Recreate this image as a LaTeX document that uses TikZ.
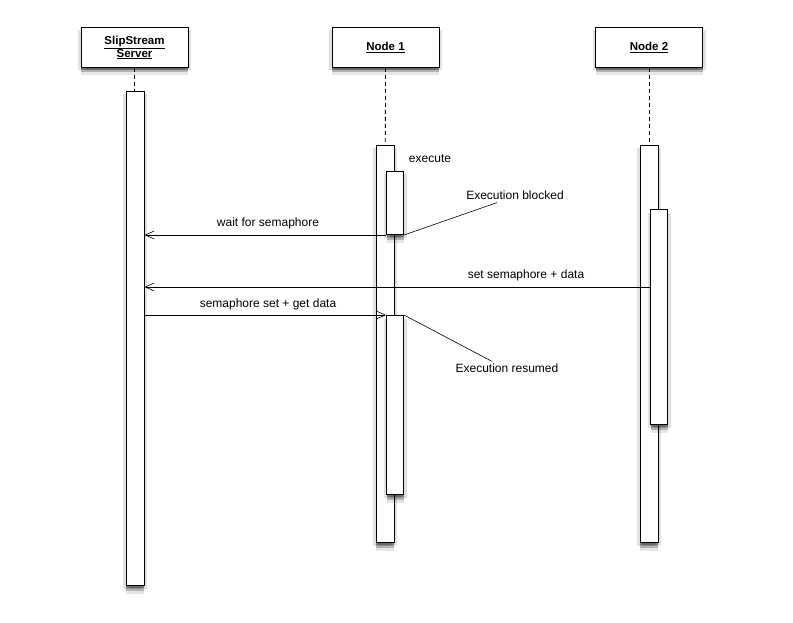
\documentclass[tikz,border=0pt]{standalone}
\usepackage{fontspec}
\setmainfont{Liberation Sans}
\usetikzlibrary{arrows.meta,positioning,shadows}

\begin{document}
\begin{tikzpicture}[
  x=1pt, y=1pt,
  softshadow/.style={
    general shadow={shadow xshift=0pt, shadow yshift=-8pt, fill=black, opacity=0.1},
    general shadow={shadow xshift=-3pt, shadow yshift=-3pt, fill=black, opacity=0.12},
    general shadow={shadow xshift=3pt, shadow yshift=-3pt, fill=black, opacity=0.12},
    general shadow={shadow xshift=0pt, shadow yshift=-5pt, fill=black, opacity=0.22},
    general shadow={shadow xshift=0pt, shadow yshift=-2.5pt, fill=black, opacity=0.25}},
  hdr/.style={draw, line width=1pt, fill=white, align=center, minimum width=107pt, minimum height=40pt,
    anchor=north, font=\fontsize{11.5}{13}\selectfont\bfseries, softshadow},
  bar/.style={draw, line width=1pt, fill=white, inner sep=0pt, minimum width=18pt, anchor=north, softshadow},
  subbar/.style={bar, minimum width=17pt, anchor=north west},
  life/.style={line width=0.8pt, dash pattern=on 4pt off 3pt},
  arrow/.style={-{Straight Barb[length=9pt,width=8pt]}, line width=0.6pt},
  note/.style={line width=0.6pt},
  lbl/.style={font=\fontsize{12}{14}\selectfont, inner sep=0pt}
]
\useasboundingbox (0,0) rectangle (793,-623);

% lifeline heads
\node[hdr] (hdrS) at (134.5,-27) {\underline{SlipStream}\\\underline{Server}};
\node[hdr] (hdrA) at (385.5,-27) {\underline{Node 1}};
\node[hdr] (hdrB) at (649,-27) {\underline{Node 2}};

% activations
\node[bar, minimum height=494pt] (barS) at (135,-91) {};
\node[bar, minimum height=397pt] (barA) at (385,-145) {};
\node[bar, minimum height=397pt] (barB) at (649,-145) {};
\node[subbar, minimum height=63pt] (barA1) at (386,-171) {};
\node[subbar, minimum height=179pt] (barA2) at (386,-315) {};
\node[subbar, minimum height=215pt] (barB1) at (650,-209) {};

\draw[life] (hdrS) -- (barS);
\draw[life] (hdrA) -- (barA);
\draw[life] (hdrB) -- (barB);

% labels
\node[lbl] (exec) at (430,-159) {execute};
\node[lbl] (wait) at (268,-223) {wait for semaphore};
\node[lbl] (setsem) at (526,-275) {set semaphore + data};
\node[lbl] (getdata) at (268,-304) {semaphore set + get data};
\node[lbl] (blocked) at (515,-195) {Execution blocked};
\node[lbl] (resumed) at (507,-368) {Execution resumed};

% messages
\draw[arrow] (barA1.south west) -- (barA1.south west -| barS.east);
\draw[arrow] (barB1.west |- 0,-287) -- (barS.east |- 0,-287);
\draw[arrow] (barA2.north west -| barS.east) -- (barA2.north west);

% notes
\draw[note] (barA1.south east) -- ([xshift=-18pt,yshift=-3pt]blocked.south);
\draw[note] (barA2.north east) -- ([xshift=-15pt,yshift=2pt]resumed.north);
\end{tikzpicture}
\end{document}
